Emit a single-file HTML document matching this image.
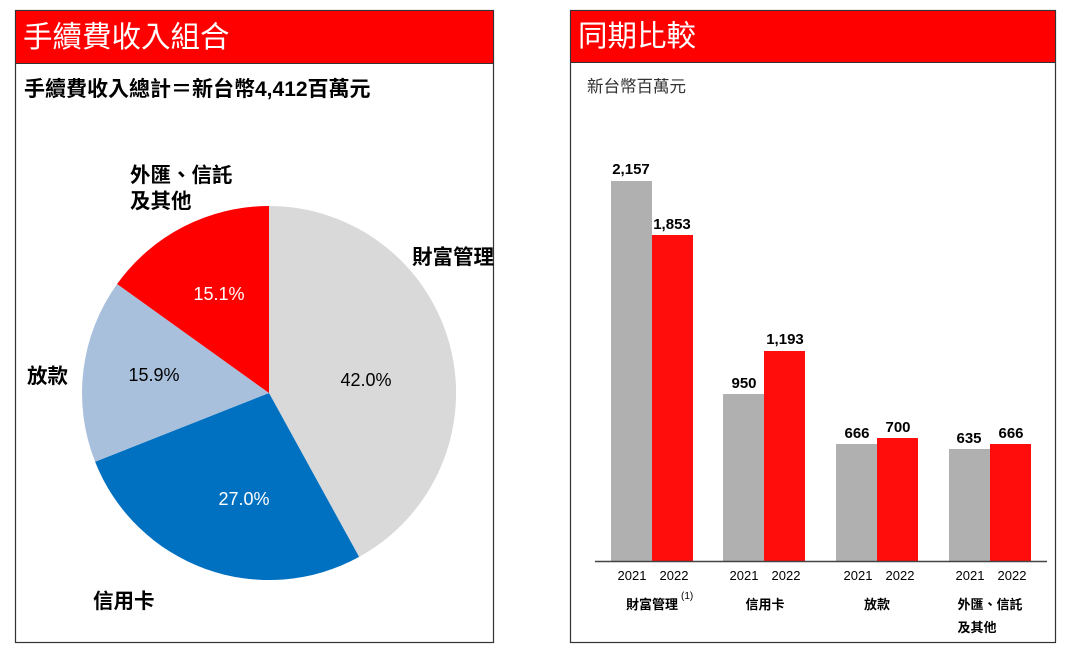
<!DOCTYPE html>
<html><head><meta charset="utf-8"><style>
body{margin:0;background:#fff;width:1068px;height:655px;overflow:hidden;font-family:"Liberation Sans","Noto Sans CJK TC",sans-serif}
</style></head><body>
<svg width="1068" height="655" xmlns="http://www.w3.org/2000/svg" font-family="Liberation Sans, Noto Sans CJK TC, sans-serif">
<rect x="15.5" y="10.5" width="478" height="632" fill="#fff" stroke="#333" stroke-width="1.2"/>
<rect x="16" y="11" width="477" height="52" fill="#ff0000"/>
<line x1="15" y1="63.5" x2="494" y2="63.5" stroke="#333"/>
<text x="23" y="47" font-size="29.5" fill="#fff">手續費收入組合</text>
<text x="24" y="96" font-size="21" font-weight="bold" fill="#000">手續費收入總計＝新台幣4,412百萬元</text>
<g transform="translate(269,393)">
<path d="M0,0 L0,-187 A187,187 0 0 1 90.1,163.9 Z" fill="#d9d9d9"/>
<path d="M0,0 L90.1,163.9 A187,187 0 0 1 -173.9,68.8 Z" fill="#0070c0"/>
<path d="M0,0 L-173.9,68.8 A187,187 0 0 1 -151.9,-109.0 Z" fill="#a9c0dd"/>
<path d="M0,0 L-151.9,-109.0 A187,187 0 0 1 0,-187 Z" fill="#ff0000"/>
</g>
<g font-size="18">
<text x="366" y="386" fill="#000" text-anchor="middle">42.0%</text>
<text x="244" y="505" fill="#fff" text-anchor="middle">27.0%</text>
<text x="154" y="381" fill="#000" text-anchor="middle">15.9%</text>
<text x="219" y="300" fill="#fff" text-anchor="middle">15.1%</text>
</g>
<g font-size="20.5" font-weight="bold">
<text x="412" y="264">財富管理</text>
<text x="93" y="608">信用卡</text>
<text x="27" y="383">放款</text>
<text x="130" y="182">外匯、信託</text>
<text x="130" y="208">及其他</text>
</g>

<rect x="570.5" y="10.5" width="485" height="632" fill="#fff" stroke="#333" stroke-width="1.2"/>
<rect x="571" y="11" width="484" height="51" fill="#ff0000"/>
<line x1="570" y1="62.5" x2="1056" y2="62.5" stroke="#333"/>
<text x="578" y="46" font-size="29.5" fill="#fff">同期比較</text>
<text x="587" y="92" font-size="16.5" fill="#333">新台幣百萬元</text>
<g>
<rect x="611" y="181" width="41" height="380" fill="#b0b0b0"/>
<rect x="652" y="235" width="41" height="326" fill="#ff0d0d"/>
<rect x="723" y="394" width="41" height="167" fill="#b0b0b0"/>
<rect x="764" y="351" width="41" height="210" fill="#ff0d0d"/>
<rect x="836" y="444" width="41" height="117" fill="#b0b0b0"/>
<rect x="877" y="438" width="41" height="123" fill="#ff0d0d"/>
<rect x="949" y="449" width="41" height="112" fill="#b0b0b0"/>
<rect x="990" y="444" width="41" height="117" fill="#ff0d0d"/>
</g>
<line x1="595" y1="561.5" x2="1047" y2="561.5" stroke="#444" stroke-width="1.5"/>
<g font-size="15" font-weight="bold" text-anchor="middle">
<text x="631" y="174">2,157</text><text x="672" y="229">1,853</text>
<text x="744" y="388">950</text><text x="785" y="344">1,193</text>
<text x="857" y="438">666</text><text x="898" y="432">700</text>
<text x="969" y="443">635</text><text x="1011" y="438">666</text>
</g>
<g font-size="13" text-anchor="middle">
<text x="632" y="580">2021</text><text x="674" y="580">2022</text>
<text x="744" y="580">2021</text><text x="786" y="580">2022</text>
<text x="858" y="580">2021</text><text x="900" y="580">2022</text>
<text x="970" y="580">2021</text><text x="1012" y="580">2022</text>
</g>
<g font-size="13" font-weight="bold" text-anchor="middle">
<text x="652" y="609">財富管理</text>
<text x="765" y="609">信用卡</text>
<text x="877" y="609">放款</text>
<text x="990" y="609">外匯、信託</text>
<text x="977" y="632">及其他</text>
</g>
<text x="681" y="599" font-size="10">(1)</text>
</svg>
</body></html>
